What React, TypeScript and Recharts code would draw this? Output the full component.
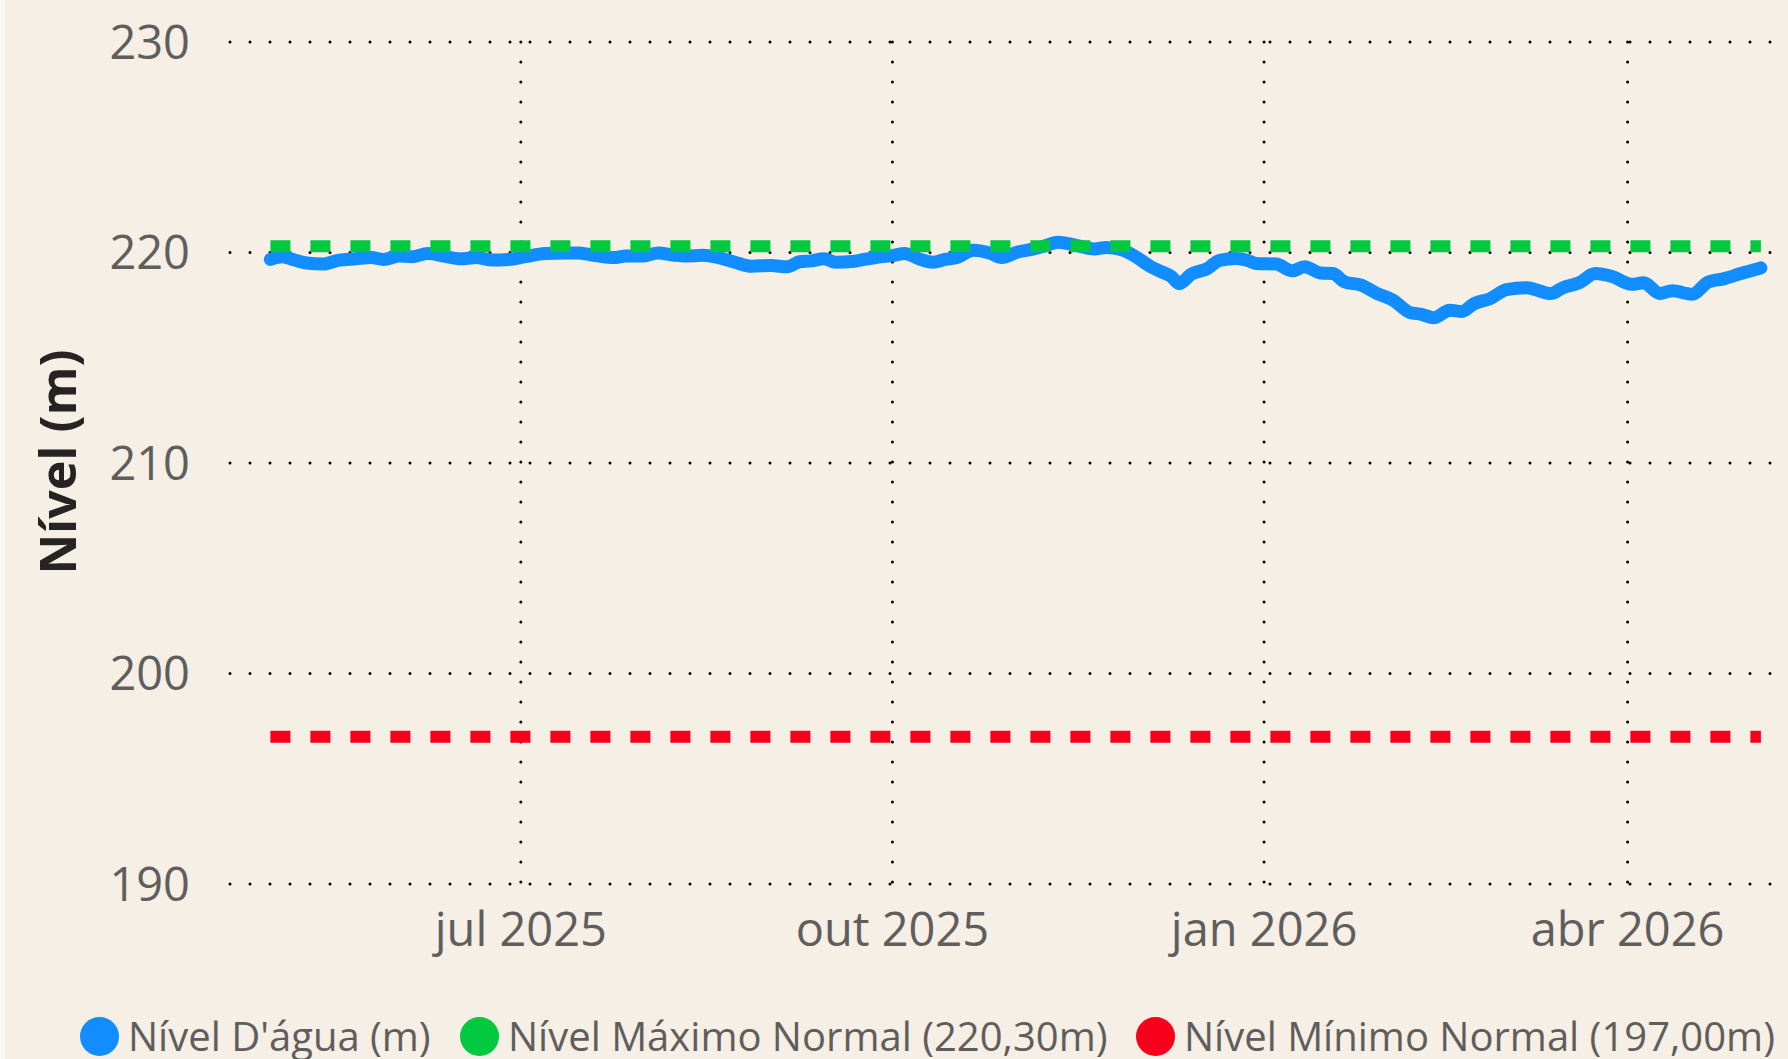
import React from 'react';
import { LineChart, Line, XAxis, YAxis, CartesianGrid } from 'recharts';

// Nível d'água observado (m)
const datas = [
  '2025-04-30', '2025-05-03', '2025-05-06', '2025-05-09', '2025-05-13', '2025-05-17', '2025-05-21', '2025-05-25',
  '2025-05-28', '2025-06-01', '2025-06-04', '2025-06-08', '2025-06-12', '2025-06-16', '2025-06-20', '2025-06-24',
  '2025-06-28', '2025-07-02', '2025-07-07', '2025-07-12', '2025-07-15', '2025-07-19', '2025-07-24', '2025-07-27',
  '2025-07-31', '2025-08-04', '2025-08-08', '2025-08-11', '2025-08-15', '2025-08-19', '2025-08-23', '2025-08-27',
  '2025-09-01', '2025-09-05', '2025-09-08', '2025-09-11', '2025-09-14', '2025-09-17', '2025-09-21', '2025-09-24',
  '2025-09-28', '2025-10-01', '2025-10-04', '2025-10-08', '2025-10-11', '2025-10-14', '2025-10-17', '2025-10-21',
  '2025-10-25', '2025-10-28', '2025-11-01', '2025-11-05', '2025-11-08', '2025-11-11', '2025-11-15', '2025-11-20',
  '2025-11-23', '2025-11-27', '2025-11-30', '2025-12-04', '2025-12-07', '2025-12-09', '2025-12-11', '2025-12-14',
  '2025-12-18', '2025-12-21', '2025-12-25', '2025-12-28', '2025-12-30', '2026-01-04', '2026-01-08', '2026-01-11',
  '2026-01-15', '2026-01-18', '2026-01-21', '2026-01-25', '2026-01-29', '2026-02-02', '2026-02-06', '2026-02-09',
  '2026-02-12', '2026-02-16', '2026-02-19', '2026-02-22', '2026-02-26', '2026-03-02', '2026-03-07', '2026-03-13',
  '2026-03-16', '2026-03-20', '2026-03-24', '2026-03-28', '2026-04-02', '2026-04-05', '2026-04-09', '2026-04-12',
  '2026-04-17', '2026-04-21', '2026-04-25', '2026-04-29', '2026-05-04',
];

const nivelAgua = [
  219.67, 219.8, 219.64, 219.5, 219.45, 219.64, 219.7, 219.76,
  219.67, 219.83, 219.8, 219.95, 219.83, 219.7, 219.76, 219.64,
  219.67, 219.8, 219.95, 219.98, 219.98, 219.87, 219.76, 219.83,
  219.83, 219.98, 219.87, 219.83, 219.87, 219.76, 219.54, 219.35,
  219.38, 219.32, 219.56, 219.6, 219.7, 219.54, 219.57, 219.67,
  219.8, 219.85, 219.95, 219.67, 219.54, 219.67, 219.76, 220.11,
  219.98, 219.76, 220.02, 220.17, 220.33, 220.49, 220.36, 220.17,
  220.24, 220.11, 219.83, 219.32, 219.05, 218.87, 218.52, 218.97,
  219.24, 219.63, 219.71, 219.62, 219.48, 219.45, 219.13, 219.32,
  219.03, 219.0, 218.6, 218.45, 218.05, 217.73, 217.16, 217.06,
  216.9, 217.26, 217.2, 217.57, 217.81, 218.24, 218.33, 218.05,
  218.33, 218.56, 219.0, 218.87, 218.49, 218.56, 218.05, 218.18,
  218.02, 218.6, 218.76, 219.0, 219.27,
];

const NIVEL_MAX = 220.3;
const NIVEL_MIN = 197.0;

const tickDatas = ['2025-07-01', '2025-10-01', '2026-01-01', '2026-04-01'];
const tickRotulos = ['jul 2025', 'out 2025', 'jan 2026', 'abr 2026'];
const yTicks = [190, 200, 210, 220, 230];

const X_INICIO = '2025-04-20';
const X_FIM = '2026-05-07';

const ts = (d: string) => new Date(d + 'T00:00:00Z').getTime();

const data = datas.map((d, i) => ({
  t: ts(d),
  nivel: nivelAgua[i],
  max: NIVEL_MAX,
  min: NIVEL_MIN,
}));

const xTicks = tickDatas.map(ts);

const FONT = "'Segoe UI', 'Open Sans', sans-serif";
const BG = '#F6EFE5';
const AZUL = '#118DFF';
const VERDE = '#02C93F';
const VERMELHO = '#F6001B';
const CINZA = '#605E5C';

const legenda = [
  { nome: "Nível D'água (m)", cor: AZUL, left: 80 },
  { nome: 'Nível Máximo Normal (220,30m)', cor: VERDE, left: 460 },
  { nome: 'Nível Mínimo Normal (197,00m)', cor: VERMELHO, left: 1136 },
];

// só as linhas verticais dos ticks do eixo X (sem as bordas)
const verticais = (props: any) => {
  const scale = props?.xAxis?.scale;
  if (typeof scale === 'function') return xTicks.map((t) => scale(t));
  if (scale && typeof scale.map === 'function') return xTicks.map((t) => scale.map(t));
  return [];
};

export default function App() {
  return (
    <div style={{ position: 'absolute', left: 0, top: 0, width: 1788, height: 1059, background: '#FBF8F3', overflow: 'hidden' }}>
      <div style={{ position: 'absolute', left: 5, top: 0, width: 1783, height: 1059, background: BG }} />
      <div style={{ position: 'absolute', left: 0, top: 0 }}>
        <LineChart width={1788} height={1059} data={data} margin={{ top: 42, right: 15, left: 0, bottom: 75 }}>
          <CartesianGrid
            stroke="#000"
            strokeWidth={3}
            strokeDasharray="0 20"
            strokeLinecap="round"
            verticalCoordinatesGenerator={verticais}
          />
          <XAxis
            dataKey="t"
            type="number"
            scale="time"
            domain={[ts(X_INICIO), ts(X_FIM)]}
            ticks={xTicks}
            tickFormatter={(v: number) => tickRotulos[xTicks.indexOf(v)] ?? ''}
            axisLine={false}
            tickLine={false}
            tickSize={0}
            tickMargin={29}
            height={100}
            tick={{ fill: CINZA, fontSize: 47, fontFamily: FONT }}
          />
          <YAxis
            domain={[190, 230]}
            ticks={yTicks}
            axisLine={false}
            tickLine={false}
            tickSize={0}
            tickMargin={40}
            width={230}
            tick={{ fill: CINZA, fontSize: 47, fontFamily: FONT }}
          />
          <Line
            type="monotone"
            dataKey="nivel"
            stroke={AZUL}
            strokeWidth={13}
            strokeLinecap="round"
            strokeLinejoin="round"
            dot={false}
            isAnimationActive={false}
          />
          <Line
            type="linear"
            dataKey="max"
            stroke={VERDE}
            strokeWidth={12}
            strokeDasharray="20 20"
            dot={false}
            isAnimationActive={false}
          />
          <Line
            type="linear"
            dataKey="min"
            stroke={VERMELHO}
            strokeWidth={12}
            strokeDasharray="20 20"
            dot={false}
            isAnimationActive={false}
          />
        </LineChart>
      </div>
      <div
        style={{
          position: 'absolute',
          left: 57,
          top: 462,
          transform: 'translate(-50%, -50%) rotate(-90deg)',
          whiteSpace: 'nowrap',
          fontFamily: FONT,
          fontWeight: 700,
          fontSize: 50,
          color: '#252423',
          lineHeight: 1,
        }}
      >
        Nível (m)
      </div>
      {legenda.map((l) => (
        <div
          key={l.nome}
          style={{
            position: 'absolute',
            left: l.left,
            top: 1014,
            height: 44,
            display: 'flex',
            alignItems: 'center',
            whiteSpace: 'nowrap',
            fontFamily: FONT,
            fontSize: 40,
            lineHeight: '44px',
            color: CINZA,
          }}
        >
          <span style={{ width: 39, height: 39, borderRadius: '50%', background: l.cor, marginRight: 9, flex: 'none' }} />
          <span>{l.nome}</span>
        </div>
      ))}
    </div>
  );
}
